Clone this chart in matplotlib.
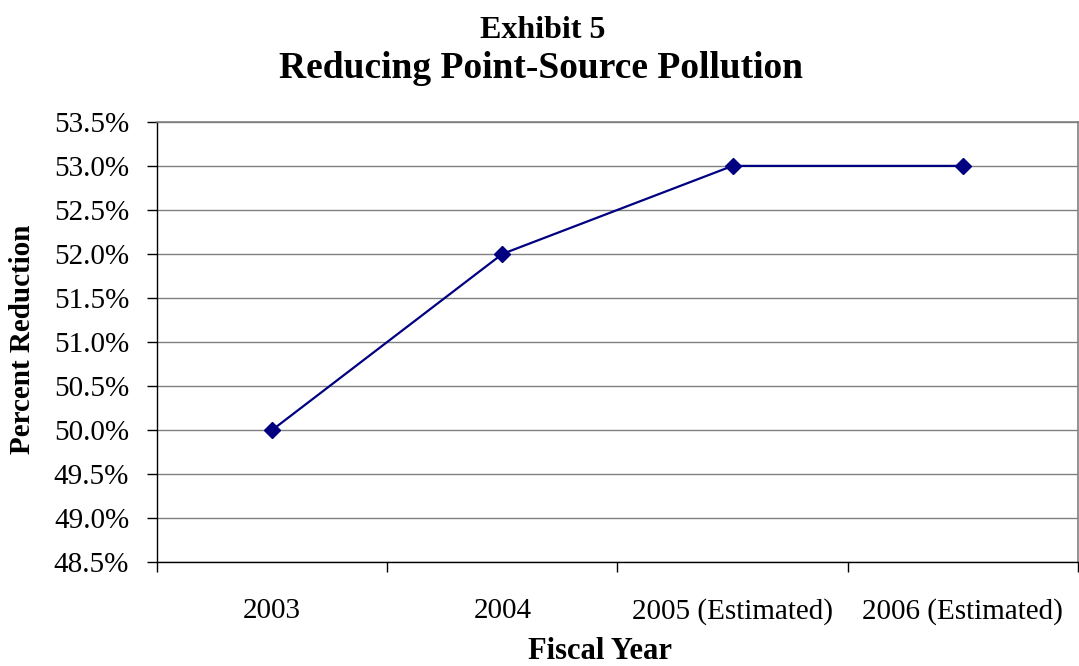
import matplotlib
matplotlib.use("Agg")
import matplotlib.pyplot as plt
from matplotlib.ticker import FuncFormatter, MultipleLocator

# ── data ──────────────────────────────────────────────────────────────────────
years = ["2003", "2004", "2005 (Estimated)", "2006 (Estimated)"]
reduction = [50.0, 52.0, 53.0, 53.0]   # percent

plt.rcParams["font.family"] = ["Liberation Serif", "DejaVu Serif"]

fig = plt.figure(figsize=(10.79, 6.66), dpi=100)
ax = fig.add_axes([0.1455, 0.156, 0.8535, 0.661])

x = list(range(len(years)))
ax.plot(x, reduction, color="#000080", linewidth=1.6, marker="D",
        markersize=8, markerfacecolor="#000080", markeredgecolor="#000080",
        zorder=3)

ax.set_xlim(-0.5, len(years) - 0.5)
ax.set_ylim(48.5, 53.5)
ax.yaxis.set_major_locator(MultipleLocator(0.5))
ax.yaxis.set_major_formatter(FuncFormatter(lambda v, _: f"{v:.1f}%"))
ax.grid(axis="y", color="#808080", linewidth=1.0)
ax.set_axisbelow(True)

ax.set_xticks(x)
ax.set_xticklabels(years)
ax.set_xticks([i + 0.5 for i in range(-1, len(years))], minor=True)
ax.tick_params(axis="x", which="major", length=0, pad=26, labelsize=21)
ax.tick_params(axis="x", which="minor", length=7, width=1.0, direction="out")
ax.tick_params(axis="y", length=7, width=1.0, direction="out", pad=13,
               labelsize=21)

for side in ("left", "bottom"):
    ax.spines[side].set_color("black")
    ax.spines[side].set_linewidth(1.0)
for side in ("top", "right"):
    ax.spines[side].set_color("#808080")
    ax.spines[side].set_linewidth(1.2)

# axis titles placed in figure pixels to sit where the reference has them
fig.text(36 / 1079, 1 - 339 / 666, "Percent Reduction", rotation=90,
         ha="right", va="center", fontsize=21, fontweight="bold")
fig.text(600 / 1079, 1 - 659 / 666, "Fiscal Year", ha="center",
         va="baseline", fontsize=22, fontweight="bold")

fig.text(0.503, 0.943, "Exhibit 5", ha="center", va="baseline",
         fontsize=23, fontweight="bold")
fig.text(0.501, 0.883, "Reducing Point-Source Pollution", ha="center",
         va="baseline", fontsize=27, fontweight="bold")

fig.savefig("out.png", dpi=100)
